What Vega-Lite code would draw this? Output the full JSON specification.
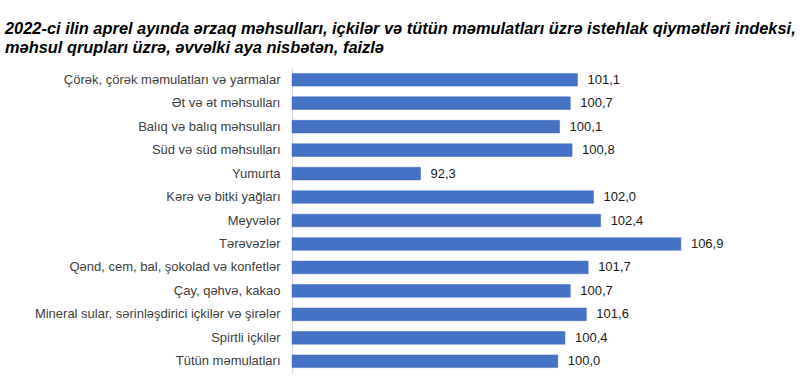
{
  "$schema": "https://vega.github.io/schema/vega-lite/v6.json",
  "width": 446,
  "height": 305,
  "autosize": {"type": "none"},
  "padding": {"left": 292, "top": 68, "right": 62, "bottom": 15},
  "background": "white",
  "config": {
    "view": {"stroke": null},
    "font": "Liberation Sans",
    "locale": {"number": {"decimal": ",", "thousands": " ", "grouping": [3], "currency": ["", ""]}}
  },
  "title": {
    "text": ["2022-ci ilin aprel ayında ərzaq məhsulları, içkilər və tütün məmulatları üzrə istehlak qiymətləri indeksi,", "məhsul qrupları üzrə, əvvəlki aya nisbətən, faizlə"],
    "anchor": "start",
    "frame": "group",
    "dx": -287,
    "offset": 12,
    "font": "Liberation Sans",
    "fontSize": 16.4,
    "fontStyle": "italic",
    "fontWeight": "bold",
    "color": "#000000",
    "lineHeight": 19
  },
  "data": {
    "values": [
      {"category": "Çörək, çörək məmulatları və yarmalar", "value": 101.1},
      {"category": "Ət və ət məhsulları", "value": 100.7},
      {"category": "Balıq və balıq məhsulları", "value": 100.1},
      {"category": "Süd və süd məhsulları", "value": 100.8},
      {"category": "Yumurta", "value": 92.3},
      {"category": "Kərə və bitki yağları", "value": 102.0},
      {"category": "Meyvələr", "value": 102.4},
      {"category": "Tərəvəzlər", "value": 106.9},
      {"category": "Qənd, cem, bal, şokolad və konfetlər", "value": 101.7},
      {"category": "Çay, qəhvə, kakao", "value": 100.7},
      {"category": "Mineral sular, sərinləşdirici içkilər və şirələr", "value": 101.6},
      {"category": "Spirtli içkilər", "value": 100.4},
      {"category": "Tütün məmulatları", "value": 100.0}
    ]
  },
  "encoding": {
    "y": {
      "field": "category",
      "type": "nominal",
      "sort": null,
      "scale": {"paddingInner": 0.46, "paddingOuter": 0.23},
      "axis": {
        "title": null,
        "ticks": false,
        "domainColor": "#D9D9D9",
        "domainWidth": 1,
        "labelFontSize": 13,
        "labelColor": "#404040",
        "labelPadding": 12,
        "labelLimit": 300
      }
    },
    "x": {
      "field": "value",
      "type": "quantitative",
      "scale": {"domain": [85.1, 110.1], "zero": false, "nice": false},
      "axis": null
    }
  },
  "layer": [
    {
      "mark": {"type": "bar", "color": "#4472C4", "stroke": "#3F6CC0", "strokeWidth": 0.5},
      "encoding": {"x2": {"datum": 85.1}}
    },
    {
      "mark": {"type": "text", "align": "left", "baseline": "middle", "dx": 10, "fontSize": 13, "color": "#1a1a1a"},
      "encoding": {"text": {"field": "value", "type": "quantitative", "format": ".1f"}}
    }
  ]
}
